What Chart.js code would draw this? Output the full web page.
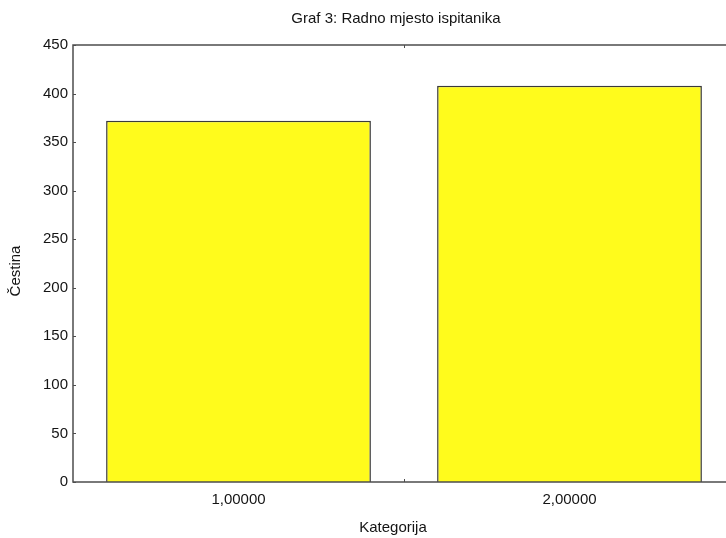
<!DOCTYPE html>
<html>
<head>
<meta charset="utf-8">
<script src="https://cdn.jsdelivr.net/npm/chart.js@4.4.0/dist/chart.umd.min.js"></script>
<style>
  html, body { margin: 0; padding: 0; background: #fff; overflow: hidden; }
  #wrap { width: 740px; height: 538px; }
</style>
</head>
<body>
<div id="wrap"><canvas id="chart" width="740" height="538"></canvas></div>
<script>
// Chart data
const chartTitle = 'Graf 3: Radno mjesto ispitanika';
const categories = ['1,00000', '2,00000'];
const counts = [372, 408];
const yTicks = [0, 50, 100, 150, 200, 250, 300, 350, 400, 450];
const xAxisTitle = 'Kategorija';
const yAxisTitle = 'Čestina';

const FONT = '"Liberation Sans", Arial, sans-serif';
const TEXT_COLOR = '#141414';
const AXIS_COLOR = '#4d4d4d';

// Frame, inward ticks and titles (old Statistica look)
const framePlugin = {
  id: 'frame',
  afterDatasetsDraw(chart) {
    const { ctx, chartArea: a, scales } = chart;
    ctx.save();
    ctx.strokeStyle = AXIS_COLOR;
    ctx.lineWidth = 1.5;
    ctx.strokeRect(a.left, a.top, a.right - a.left, a.bottom - a.top);

    ctx.lineWidth = 1;
    ctx.beginPath();
    yTicks.forEach((v) => {
      const y = Math.round(scales.y.getPixelForValue(v)) + 0.5;
      ctx.moveTo(a.left, y);
      ctx.lineTo(a.left + 3, y);
    });
    for (let i = 1; i < categories.length; i += 1) {
      const x = Math.round((scales.x.getPixelForValue(i - 1) + scales.x.getPixelForValue(i)) / 2) + 0.5;
      ctx.moveTo(x, a.bottom);
      ctx.lineTo(x, a.bottom - 3);
      ctx.moveTo(x, a.top);
      ctx.lineTo(x, a.top + 3);
    }
    ctx.stroke();

    ctx.fillStyle = TEXT_COLOR;
    ctx.font = `15px ${FONT}`;
    ctx.textAlign = 'center';
    ctx.textBaseline = 'alphabetic';
    ctx.fillText(chartTitle, 396, 23);
    ctx.fillText(xAxisTitle, 393, 532);

    ctx.translate(20, 271);
    ctx.rotate(-Math.PI / 2);
    ctx.fillText(yAxisTitle, 0, 0);
    ctx.restore();
  },
};

new Chart(document.getElementById('chart'), {
  type: 'bar',
  data: {
    labels: categories,
    datasets: [
      {
        data: counts,
        backgroundColor: '#fffb1c',
        borderColor: '#3a3a3a',
        borderWidth: 1.5,
        barPercentage: 0.8,
        categoryPercentage: 1,
      },
    ],
  },
  options: {
    responsive: false,
    animation: false,
    layout: { padding: { top: 45, right: 5, bottom: 0, left: 0 } },
    plugins: {
      legend: { display: false },
      title: { display: false },
      tooltip: { enabled: false },
    },
    scales: {
      x: {
        type: 'category',
        offset: true,
        grid: { display: false, drawTicks: false },
        border: { display: false },
        ticks: {
          color: TEXT_COLOR,
          font: { family: FONT, size: 15 },
          padding: 9,
          maxRotation: 0,
        },
        afterFit(scale) {
          scale.height = 56;
        },
      },
      y: {
        min: 0,
        max: 450,
        grid: { display: false, drawTicks: false },
        border: { display: false },
        afterBuildTicks(scale) {
          scale.ticks = yTicks.map((v) => ({ value: v }));
        },
        ticks: {
          color: TEXT_COLOR,
          font: { family: FONT, size: 15 },
          padding: 5,
        },
        afterFit(scale) {
          scale.width = 73;
        },
      },
    },
  },
  plugins: [framePlugin],
});
</script>
</body>
</html>
